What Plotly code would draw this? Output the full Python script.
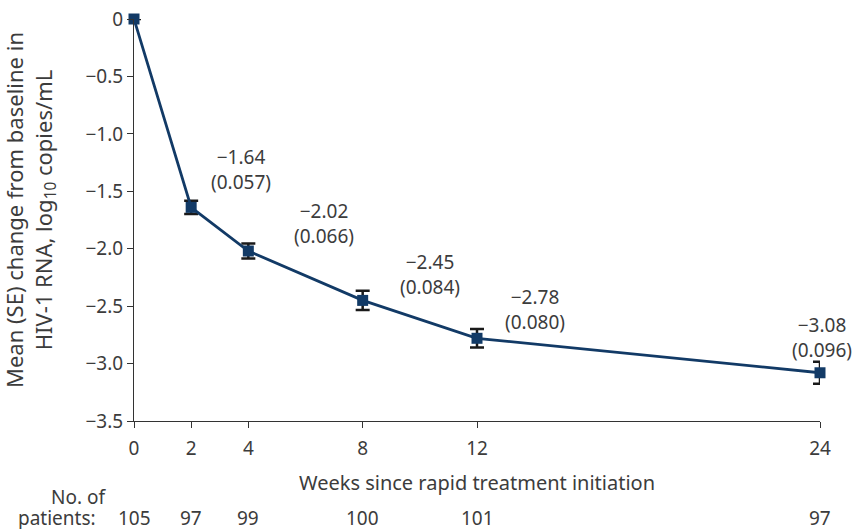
import plotly.graph_objects as go

weeks = [0, 2, 4, 8, 12, 24]
mean_change = [0, -1.64, -2.02, -2.45, -2.78, -3.08]
se = [0, 0.057, 0.066, 0.084, 0.080, 0.096]
n_patients = [105, 97, 99, 100, 101, 97]
y_ticks = [0, -0.5, -1.0, -1.5, -2.0, -2.5, -3.0, -3.5]
y_tick_text = ["0", "−0.5", "−1.0", "−1.5", "−2.0", "−2.5", "−3.0", "−3.5"]

# label offsets (px) per labelled point
label_dx = [0, 50, 76, 67, 58, 2]
label_dy = [0, 10, 0, -2, 1, 8]

FONT = "Noto Sans"
TXT = "#3c3c3c"
NAVY = "#123a66"
FS = 19

fig = go.Figure()
fig.add_trace(go.Scatter(
    x=weeks, y=mean_change,
    mode="lines+markers",
    line=dict(color=NAVY, width=2.8),
    marker=dict(symbol="square", size=11, color=NAVY),
    error_y=dict(type="data", array=se, visible=True, color="#1a1a1a", thickness=2.5, width=7),
    cliponaxis=False,
    showlegend=False,
))

annotations = []
for i in range(1, len(weeks)):
    annotations.append(dict(
        x=weeks[i], y=mean_change[i], xref="x", yref="y",
        text=f"−{abs(mean_change[i]):.2f}<br>({se[i]:.3f})",
        showarrow=False, xshift=label_dx[i], yshift=label_dy[i],
        yanchor="bottom", xanchor="center",
        font=dict(family=FONT, size=FS, color=TXT),
    ))

# patients row
for w, n in zip(weeks, n_patients):
    annotations.append(dict(
        x=w, y=0, xref="x", yref="paper", yshift=-97,
        text=str(n), showarrow=False, xanchor="center", yanchor="middle",
        font=dict(family=FONT, size=FS, color=TXT),
    ))
annotations.append(dict(x=0, y=0, xref="x", yref="paper", xshift=-36, yshift=-97,
                        text="patients:", showarrow=False, xanchor="right", yanchor="middle",
                        font=dict(family=FONT, size=FS, color=TXT)))
annotations.append(dict(x=0, y=0, xref="x", yref="paper", xshift=-26, yshift=-76,
                        text="No. of", showarrow=False, xanchor="right", yanchor="middle",
                        font=dict(family=FONT, size=FS, color=TXT)))

# y-axis title as rotated annotation
annotations.append(dict(
    x=0, y=0.5, xref="paper", yref="paper", xshift=-104, yshift=10,
    text="Mean (SE) change from baseline in<br>HIV-1 RNA, log<sub>10</sub> copies/mL",
    textangle=-90, showarrow=False, xanchor="center", yanchor="middle",
    font=dict(family=FONT, size=22, color=TXT),
))

fig.update_layout(
    width=856, height=529,
    margin=dict(l=134, r=36, t=19, b=108),
    paper_bgcolor="white", plot_bgcolor="white",
    font=dict(family=FONT, size=FS, color=TXT),
    annotations=annotations,
    xaxis=dict(
        range=[0, 24], tickvals=weeks, ticktext=[str(w) for w in weeks],
        showgrid=False, zeroline=False, showline=True, linecolor="#333", linewidth=1,
        ticks="outside", ticklen=6, tickcolor="#333", ticklabelstandoff=4,
        automargin=False,
        title=dict(text="Weeks since rapid treatment initiation", standoff=16,
                   font=dict(family=FONT, size=20, color=TXT)),
        tickfont=dict(family=FONT, size=FS, color=TXT),
    ),
    yaxis=dict(
        range=[-3.5, 0], tickvals=y_ticks, ticktext=y_tick_text,
        showgrid=False, zeroline=False, showline=True, linecolor="#333", linewidth=1,
        ticks="outside", ticklen=6, tickcolor="#333",
        automargin=False,
        tickfont=dict(family=FONT, size=FS, color=TXT),
    ),
)

fig.write_html("out.html", config={"displayModeBar": False},
               post_script="document.body.style.margin='0';document.body.style.overflow='hidden';")
